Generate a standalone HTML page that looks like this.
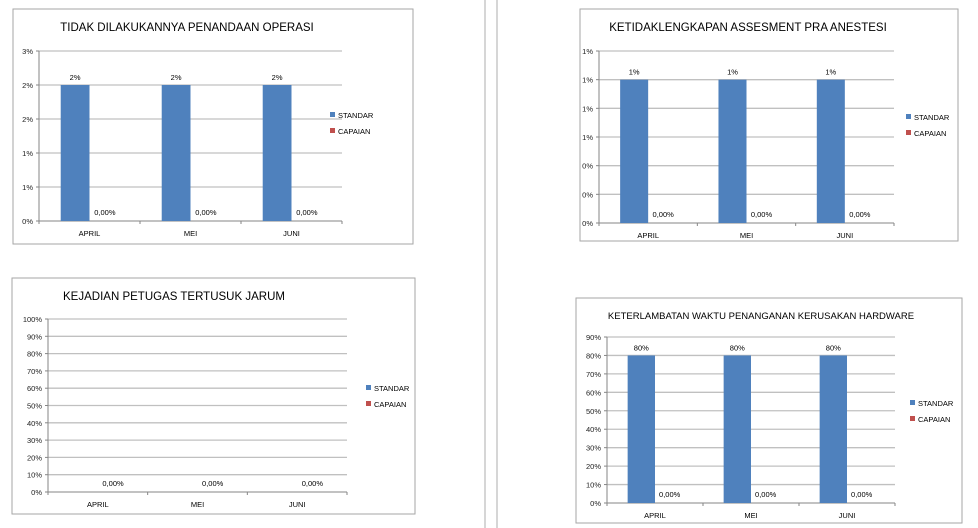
<!DOCTYPE html>
<html><head><meta charset="utf-8">
<style>
body{margin:0;width:978px;height:528px;background:#fff;overflow:hidden;font-family:"Liberation Sans",sans-serif;}
svg{position:absolute;left:0;top:0}
</style></head>
<body>
<svg id="s" width="978" height="528" xmlns="http://www.w3.org/2000/svg">
<line x1="485" y1="0" x2="485" y2="528" stroke="#c8c8c8" stroke-width="1.5"/>
<line x1="497" y1="0" x2="497" y2="528" stroke="#c8c8c8" stroke-width="1.5"/>
</svg>
<script>
const categories = ["APRIL","MEI","JUNI"];
const c1Standar = [2,2,2];
const c1Capaian = [0,0,0];
const c1Ticks = ["0%","1%","1%","2%","2%","3%"];
const c2Standar = [1,1,1];
const c2Capaian = [0,0,0];
const c2Ticks = ["0%","0%","0%","1%","1%","1%","1%"];
const c3Standar = [0,0,0];
const c3Capaian = [0,0,0];
const c3Ticks = ["0%","10%","20%","30%","40%","50%","60%","70%","80%","90%","100%"];
const c4Standar = [80,80,80];
const c4Capaian = [0,0,0];
const c4Ticks = ["0%","10%","20%","30%","40%","50%","60%","70%","80%","90%"];

const NS="http://www.w3.org/2000/svg";
const svg=document.getElementById('s');
function mk(tag,attrs,parent,text){const e=document.createElementNS(NS,tag);for(const k in attrs)e.setAttribute(k,attrs[k]);if(text!==undefined)e.textContent=text;(parent||svg).appendChild(e);return e;}

function chart(cfg){
  const g=mk('g',{});
  
  
  const box=mk('rect',{x:cfg.box[0],y:cfg.box[1],width:cfg.box[2],height:cfg.box[3],fill:'#fff',stroke:'#a6a6a6','stroke-width':1},g);
  
  
  const t=mk('text',{x:cfg.titleX,y:cfg.titleY,'font-size':cfg.titleSize||11.5,'text-anchor':'middle',fill:'#000'},g,cfg.title);
  
  
  const L=cfg.left,R=cfg.right,T=cfg.top,B=cfg.bottom;
  const y=v=>B-(v/cfg.max)*(B-T);
  const n=cfg.ticks.length;
  for(let i=0;i<n;i++){
    const v=cfg.max*i/(n-1), yy=y(v);
    const gl=mk('line',{x1:L,x2:R,y1:yy,y2:yy,stroke:i==0?'#868686':'#c0c0c0','stroke-width':i==0?1:1.3},g);
    
    
    mk('line',{x1:L-3,x2:L,y1:yy,y2:yy,stroke:'#868686'},g);
    const tl=mk('text',{x:L-6,y:yy+3,'font-size':7.5,'text-anchor':'end',fill:'#222'},g,cfg.ticks[i]);
    
    
  }
  const ax=mk('line',{x1:L,x2:L,y1:T,y2:B,stroke:'#868686'},g);
  
  
  const cw=(R-L)/categories.length, bw=cw*0.285;
  for(let i=0;i<=categories.length;i++) mk('line',{x1:L+i*cw,x2:L+i*cw,y1:B,y2:B+3,stroke:'#868686'},g);
  categories.forEach((c,i)=>{
    const cx=L+cw*(i+0.5);
    const sv=cfg.standar[i], cv=cfg.capaian[i];
    if(sv>0){
      const b=mk('rect',{x:cx-bw,y:y(sv),width:bw,height:B-y(sv),fill:'#4f81bd'},g);
      
      
      const lb=mk('text',{x:cx-bw/2,y:y(sv)-5,'font-size':7.5,'text-anchor':'middle',fill:'#000'},g,cfg.fmtS(sv));
      
      
    }
    const cb=mk('rect',{x:cx,y:y(cv),width:bw,height:B-y(cv),fill:'#c0504d'},g);
    
    
    const cl=mk('text',{x:cx+bw/2+1,y:y(cv)-6,'font-size':7.5,'text-anchor':'middle',fill:'#000'},g,cv.toFixed(2).replace('.',',')+'%');
    
    
    const xl=mk('text',{x:cx,y:B+15,'font-size':7.5,'text-anchor':'middle',fill:'#000'},g,c);
    
    
  });
  [['STANDAR','#4f81bd'],['CAPAIAN','#c0504d']].forEach((s,i)=>{
    const ly=cfg.legY+i*16;
    const sq=mk('rect',{x:cfg.legX,y:ly-4,width:5,height:5,fill:s[1]},g);
    
    
    const lt=mk('text',{x:cfg.legX+8,y:ly+2,'font-size':7.5,fill:'#000'},g,s[0]);
    
    
  });
}
const pct=v=>v+'%';
chart({name:'chart-penandaan-operasi',box:[13,9,400,235],title:'TIDAK DILAKUKANNYA PENANDAAN OPERASI',titleX:187,titleY:31,left:39,right:342,top:51,bottom:221,max:2.5,ticks:c1Ticks,standar:c1Standar,capaian:c1Capaian,fmtS:pct,legX:330,legY:116});
chart({name:'chart-assesment-pra-anestesi',box:[580,9,378,232],title:'KETIDAKLENGKAPAN ASSESMENT PRA ANESTESI',titleX:748,titleY:31,left:599,right:894,top:51,bottom:223,max:1.2,ticks:c2Ticks,standar:c2Standar,capaian:c2Capaian,fmtS:pct,legX:906,legY:118});
chart({name:'chart-petugas-tertusuk-jarum',box:[12,278,403,236],title:'KEJADIAN PETUGAS TERTUSUK JARUM',titleX:174,titleY:300,left:48,right:347,top:319,bottom:492,max:100,ticks:c3Ticks,standar:c3Standar,capaian:c3Capaian,fmtS:pct,legX:366,legY:389});
chart({name:'chart-kerusakan-hardware',box:[576,298,386,225],title:'KETERLAMBATAN WAKTU PENANGANAN KERUSAKAN HARDWARE',titleX:761,titleY:319,titleSize:9.5,left:607,right:895,top:337,bottom:503,max:90,ticks:c4Ticks,standar:c4Standar,capaian:c4Capaian,fmtS:pct,legX:910,legY:404});
</script>
</body></html>
